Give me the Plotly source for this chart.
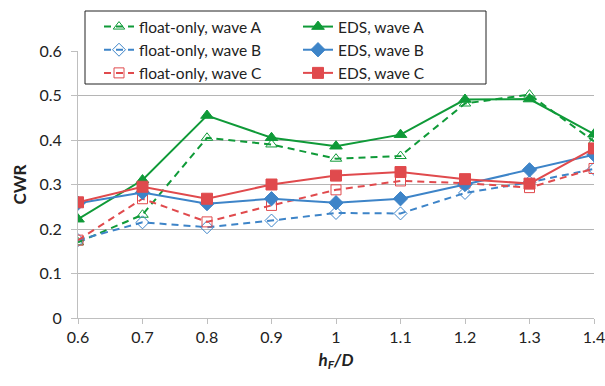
import plotly.graph_objects as go

x_vals = [0.6, 0.7, 0.8, 0.9, 1.0, 1.1, 1.2, 1.3, 1.4]
x_ticktext = ["0.6", "0.7", "0.8", "0.9", "1", "1.1", "1.2", "1.3", "1.4"]
y_ticks = [0, 0.1, 0.2, 0.3, 0.4, 0.5, 0.6]
y_ticktext = ["0", "0.1", "0.2", "0.3", "0.4", "0.5", "0.6"]

float_A = [0.170, 0.232, 0.405, 0.390, 0.358, 0.364, 0.482, 0.502, 0.397]
eds_A = [0.222, 0.310, 0.455, 0.405, 0.386, 0.412, 0.491, 0.492, 0.413]
float_B = [0.175, 0.215, 0.204, 0.219, 0.236, 0.235, 0.281, 0.305, 0.335]
eds_B = [0.258, 0.282, 0.257, 0.268, 0.259, 0.268, 0.300, 0.333, 0.367]
float_C = [0.175, 0.268, 0.216, 0.253, 0.288, 0.308, 0.303, 0.293, 0.336]
eds_C = [0.260, 0.295, 0.268, 0.300, 0.320, 0.328, 0.312, 0.302, 0.381]

GREEN = "#0f9a38"
BLUE = "#3d84c8"
RED = "#e04a4d"
FONT = "Lato"

W, H = 605, 386
ML, MR, MT, MB = 78, 11, 51, 68
PW, PH = W - ML - MR, H - MT - MB


def px_x(p):
    return (p - ML) / PW


def px_y(p):
    return 1 + (MT - p) / PH


fig = go.Figure()

series = [
    ("float-only, wave A", float_A, GREEN, "triangle-up-open", True),
    ("float-only, wave B", float_B, BLUE, "diamond-open", True),
    ("float-only, wave C", float_C, RED, "square-open", True),
    ("EDS, wave A", eds_A, GREEN, "triangle-up", False),
    ("EDS, wave B", eds_B, BLUE, "diamond", False),
    ("EDS, wave C", eds_C, RED, "square", False),
]

for name, ys, col, sym, dashed in series:
    fig.add_trace(go.Scatter(
        x=x_vals, y=ys, name=name, mode="lines+markers",
        legend="legend" if dashed else "legend2",
        line=dict(color=col, width=2, dash="7px,5px" if dashed else "solid"),
        marker=dict(symbol=sym, size=11 if not dashed else 10, color=col,
                    line=dict(color=col, width=1)),
    ))

leg_common = dict(
    orientation="v", xanchor="left", yanchor="top",
    bgcolor="rgba(0,0,0,0)", borderwidth=0, tracegroupgap=0,
    font=dict(family=FONT, size=15.5, color="#222222"),
    itemwidth=30,
)

fig.update_layout(
    width=W, height=H,
    margin=dict(l=ML, r=MR, t=MT, b=MB, autoexpand=False),
    paper_bgcolor="white", plot_bgcolor="white",
    font=dict(family=FONT, size=16, color="#222222"),
    showlegend=True,
    legend=dict(x=px_x(99), y=px_y(10), **leg_common),
    legend2=dict(x=px_x(298), y=px_y(10), **leg_common),
    shapes=[dict(
        type="rect", xref="paper", yref="paper",
        x0=px_x(85), x1=px_x(486), y0=px_y(84), y1=px_y(11),
        line=dict(color="#222222", width=1), fillcolor="white", layer="above",
    )],
    xaxis=dict(
        range=[0.6, 1.4], tickvals=x_vals, ticktext=x_ticktext,
        showgrid=False, showline=True, linecolor="#bfbfbf", linewidth=1,
        ticks="outside", ticklen=5, tickcolor="#bfbfbf",
        ticklabeloverflow="allow", automargin=False,
        tickfont=dict(family=FONT, size=16, color="#222222"),
        title=dict(text="<b><i>h<sub>F</sub>/D</i></b>", font=dict(family=FONT, size=17), standoff=8),
        zeroline=False,
    ),
    yaxis=dict(
        range=[0, 0.6], tickvals=y_ticks, ticktext=y_ticktext,
        showgrid=True, gridcolor="#b5b5b5", gridwidth=1,
        showline=True, linecolor="#bfbfbf", linewidth=1,
        ticks="outside", ticklen=6, tickcolor="#bfbfbf", ticklabelstandoff=6,
        automargin=False,
        tickfont=dict(family=FONT, size=16, color="#222222"),
        title=dict(text="<b>CWR</b>", font=dict(family=FONT, size=17), standoff=8),
        zeroline=False,
    ),
)

fig.write_html("out.html")
